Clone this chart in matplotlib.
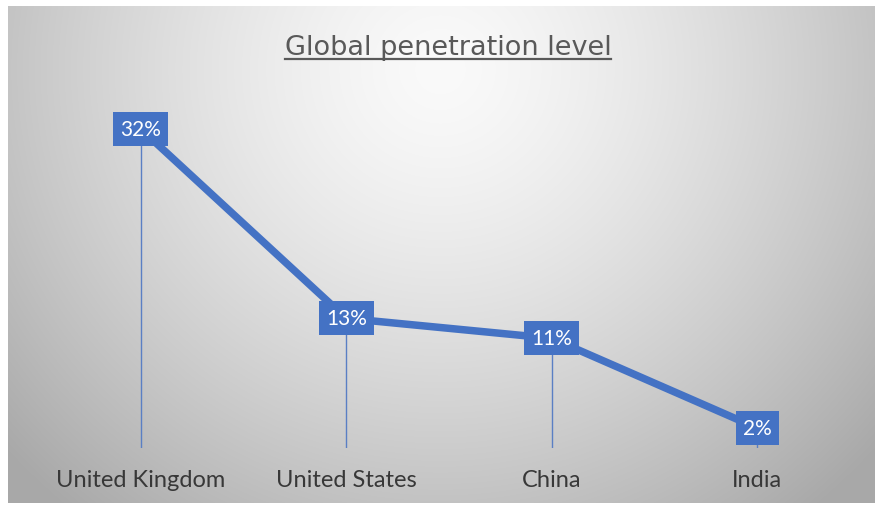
import numpy as np
import matplotlib
matplotlib.use("Agg")
import matplotlib.pyplot as plt

categories = ["United Kingdom", "United States", "China", "India"]
values = [32, 13, 11, 2]
labels = ["32%", "13%", "11%", "2%"]
title = "Global penetration level"

W, H = 877, 506
fig = plt.figure(figsize=(W / 100, H / 100), dpi=100)
plt.rcParams['font.family'] = ['Lato', 'DejaVu Sans']

# background: radial gradient inside a white frame
bg = fig.add_axes([0, 0, 1, 1], zorder=0)
bg.set_axis_off()
yy, xx = np.mgrid[0:H, 0:W]
cx, cy, rx, ry = 440, 70, 480, 470
t = np.sqrt(((xx - cx) / rx) ** 2 + ((yy - cy) / ry) ** 2)
t = np.clip(t, 0, 1.3)
c = 250 - 62 * t ** 1.4
c = np.clip(c, 168, 250) / 255.0
img = np.dstack([c, c, c])
frame = (xx < 8) | (xx > 874) | (yy < 7) | (yy > 503)
img[frame] = 1.0
bg.imshow(img, extent=[0, W, H, 0], aspect='auto', interpolation='bilinear')
bg.set_xlim(0, W)
bg.set_ylim(H, 0)

ax = fig.add_axes([38 / W, 57 / H, (860 - 38) / W, (449 - 100) / H], zorder=1)
ax.patch.set_alpha(0)
x = np.arange(len(categories))
ax.set_xlim(-0.5, len(categories) - 0.5)
ax.set_ylim(0, 35)

blue = "#4472C4"
ax.vlines(x, 0, values, color="#5a7fc4", lw=1.0, zorder=2)
ax.plot(x, values, color=blue, lw=5.4, solid_capstyle='butt', zorder=3)
for xi, v, lab in zip(x, values, labels):
    ax.text(xi, v, lab, ha='center', va='center', color='white', fontsize=15,
            zorder=5,
            bbox=dict(boxstyle='square,pad=0.33', fc=blue, ec='none'))

ax.set_xticks(x)
ax.set_xticklabels(categories, fontsize=17, color="#383838")
ax.set_yticks([])
ax.tick_params(axis='x', length=0, pad=15)
for s in ax.spines.values():
    s.set_visible(False)

# title with underline
tt = fig.text(448 / W, 1 - 55 / H, title, ha='center', va='baseline',
              fontsize=19.5, color="#595959", family=['DejaVu Sans'])
fig.canvas.draw()
bb = tt.get_window_extent()
fig.add_artist(plt.Line2D([bb.x0 / W, bb.x1 / W], [(H - 60) / H, (H - 60) / H],
                          transform=fig.transFigure, color="#595959", lw=1.6))

fig.savefig("out.png", dpi=100)
